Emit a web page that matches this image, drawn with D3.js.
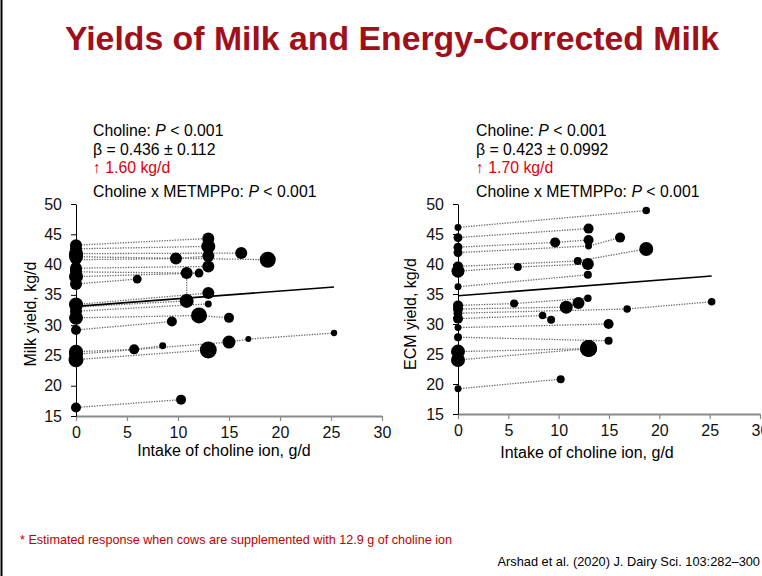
<!DOCTYPE html>
<html>
<head>
<meta charset="utf-8">
<script src="https://cdn.jsdelivr.net/npm/d3@7"></script>
<style>
  body { margin: 0; background: #fff; }
  text { font-family: Arial, "Liberation Sans", sans-serif; }
</style>
</head>
<body>
<script>
// each study: points [choline intake g/d, yield kg/d, weight], joined in order
const milkStudies = [
  [[0, 43.2, 36], [12.97, 44.3, 36]],
  [[0, 42.6, 36], [12.97, 43.0, 49]],
  [[0, 41.8, 49], [16.2, 41.9, 36]],
  [[0, 41.3, 49], [18.8, 40.8, 64]],
  [[0, 40.8, 30], [9.8, 41.0, 36], [12.97, 41.4, 36]],
  [[0, 39.4, 36], [12.97, 39.7, 36]],
  [[0, 38.8, 36], [10.85, 38.6, 36], [10.85, 34.0, 49], [0, 33.0, 36]],
  [[0, 38.0, 49], [12.06, 38.6, 20]],
  [[0, 36.8, 36], [6.0, 37.6, 20]],
  [[0, 33.4, 49], [12.97, 35.3, 36]],
  [[0, 32.3, 36], [12.97, 33.5, 12]],
  [[0, 31.2, 49], [12.06, 31.6, 64], [15.0, 31.2, 25]],
  [[0, 29.2, 25], [9.4, 30.6, 25]],
  [[0, 25.6, 49], [5.7, 26.0, 25], [8.5, 26.6, 12]],
  [[0, 25.2, 49], [15.0, 27.2, 42], [16.9, 27.7, 9], [25.3, 28.7, 10]],
  [[0, 24.3, 56], [12.97, 25.9, 72]],
  [[0, 16.4, 25], [10.3, 17.7, 25]]
]

const ecmStudies = [
  [[0, 46.1, 12], [18.7, 48.9, 14]],
  [[0, 44.4, 20], [12.97, 45.9, 25]],
  [[0, 42.8, 20], [9.65, 43.6, 25], [12.97, 44.0, 25]],
  [[0, 41.9, 20], [12.97, 43.0, 12], [16.1, 44.4, 25]],
  [[0, 39.6, 25], [11.9, 40.5, 16], [18.7, 42.5, 49]],
  [[0, 38.8, 42], [5.94, 39.5, 16], [12.9, 40.0, 36]],
  [[0, 36.2, 12], [12.9, 38.2, 16]],
  [[0, 33.1, 25], [5.57, 33.4, 16], [12.9, 34.3, 14]],
  [[0, 32.5, 25], [10.75, 32.8, 42], [11.97, 33.5, 36]],
  [[0, 31.8, 20], [16.8, 32.5, 14], [25.2, 33.7, 14]],
  [[0, 30.9, 25], [8.4, 31.4, 14], [9.25, 30.7, 16]],
  [[0, 29.4, 12], [14.96, 30.0, 25]],
  [[0, 27.8, 16], [14.96, 27.2, 16]],
  [[0, 25.4, 49], [12.97, 25.9, 72]],
  [[0, 24.0, 49], [12.97, 25.9, 72]],
  [[0, 19.2, 12], [10.2, 20.8, 16]]
]

// fitted lines [intake, yield]
const milkFit = [[0, 33.1], [25.3, 36.3]]
const ecmFit = [[0, 34.7], [25.2, 38.0]]

const xTicks = [0, 5, 10, 15, 20, 25, 30]
const yTicks = [15, 20, 25, 30, 35, 40, 45, 50]

// *...* marks italic
const milkNotes = ['Choline: *P* < 0.001', 'β = 0.436 ± 0.112', '↑ 1.60 kg/d', 'Choline x METMPPo: *P* < 0.001']
const ecmNotes = ['Choline: *P* < 0.001', 'β = 0.423 ± 0.0992', '↑ 1.70 kg/d', 'Choline x METMPPo: *P* < 0.001']

const title = 'Yields of Milk and Energy-Corrected Milk'
const xLabel = 'Intake of choline ion, g/d'
const footnote = '* Estimated response when cows are supplemented with 12.9 g of choline ion'
const citation = 'Arshad et al. (2020) J. Dairy Sci. 103:282–300'

const w = 762
const h = 576

const svg = d3.select('body')
  .append('svg')
  .attr('width', w)
  .attr('height', h)

// slide edge
svg.append('rect')
  .attr('x', 0.5).attr('y', 0)
  .attr('width', 2).attr('height', h)
  .attr('fill', '#000')

svg.append('text')
  .attr('x', 392).attr('y', 50)
  .attr('text-anchor', 'middle')
  .attr('font-size', 33.8)
  .attr('font-weight', 'bold')
  .attr('fill', '#a0101a')
  .text(title)

const r = d3.scaleSqrt().domain([0, 100]).range([0, 10])

function panel(studies, fit, notes, yLabel, xRange, yRange, noteX, yLabelX, xLabelX, xLabelY) {
  const x = d3.scaleLinear().domain([0, 30]).range(xRange)
  const y = d3.scaleLinear().domain([15, 50]).range(yRange)
  const g = svg.append('g')

  // notes
  const noteY = [136, 154.5, 172.5, 197]
  notes.forEach((s, i) => {
    const t = g.append('text')
      .attr('x', noteX).attr('y', noteY[i])
      .attr('font-size', 15.8)
      .attr('fill', i === 2 ? '#e0000b' : '#000')
    s.split('*').forEach((part, k) => {
      t.append('tspan')
        .attr('font-style', k % 2 ? 'italic' : 'normal')
        .text(part)
    })
  })

  // axes
  const xAxis = g.append('g')
    .attr('transform', `translate(0,${y(15)})`)
    .call(d3.axisBottom(x).tickValues(xTicks).tickSize(5).tickSizeOuter(0).tickPadding(6))
  xAxis.select('.domain').attr('stroke', '#8a8a8a').attr('stroke-width', 2)
  xAxis.selectAll('.tick line').attr('stroke', '#8a8a8a').attr('stroke-width', 1.2)
  xAxis.selectAll('text').attr('font-size', 16).attr('fill', '#111').attr('font-family', 'Arial, "Liberation Sans", sans-serif')

  const yAxis = g.append('g')
    .attr('transform', `translate(${x(0)},0)`)
    .call(d3.axisLeft(y).tickValues(yTicks).tickSize(5).tickSizeOuter(0).tickPadding(9))
  yAxis.select('.domain').attr('stroke', '#000')
  yAxis.selectAll('.tick line').attr('stroke', '#000')
  yAxis.selectAll('text').attr('font-size', 16).attr('fill', '#111').attr('font-family', 'Arial, "Liberation Sans", sans-serif')

  g.append('text')
    .attr('transform', `translate(${yLabelX},314) rotate(-90)`)
    .attr('text-anchor', 'middle')
    .attr('font-size', 16)
    .text(yLabel)

  g.append('text')
    .attr('x', xLabelX).attr('y', xLabelY)
    .attr('text-anchor', 'middle')
    .attr('font-size', 16)
    .text(xLabel)

  // study lines
  const line = d3.line().x(d => x(d[0])).y(d => y(d[1]))
  g.selectAll('path.study')
    .data(studies)
    .enter()
    .append('path')
    .attr('class', 'study')
    .attr('d', line)
    .attr('fill', 'none')
    .attr('stroke', '#666')
    .attr('stroke-width', 1.3)
    .attr('stroke-dasharray', '1.3,1.3')

  // bubbles
  g.selectAll('circle')
    .data(studies.flat())
    .enter()
    .append('circle')
    .attr('cx', d => x(d[0]))
    .attr('cy', d => y(d[1]))
    .attr('r', d => r(d[2]))
    .attr('fill', '#000')

  // fitted line
  g.append('path')
    .attr('d', d3.line().x(d => x(d[0])).y(d => y(d[1]))(fit))
    .attr('fill', 'none')
    .attr('stroke', '#000')
    .attr('stroke-width', 1.6)
}

panel(milkStudies, milkFit, milkNotes, 'Milk yield, kg/d', [76, 382], [416, 204], 93, 36, 224, 456)
panel(ecmStudies, ecmFit, ecmNotes, 'ECM yield, kg/d', [458, 760], [414, 204], 476, 416, 587, 458)

svg.append('text')
  .attr('x', 20).attr('y', 544)
  .attr('font-size', 12.6)
  .attr('fill', '#c00000')
  .text(footnote)

svg.append('text')
  .attr('x', 760).attr('y', 566)
  .attr('text-anchor', 'end')
  .attr('font-size', 12.8)
  .attr('fill', '#000')
  .text(citation)
</script>
</body>
</html>
